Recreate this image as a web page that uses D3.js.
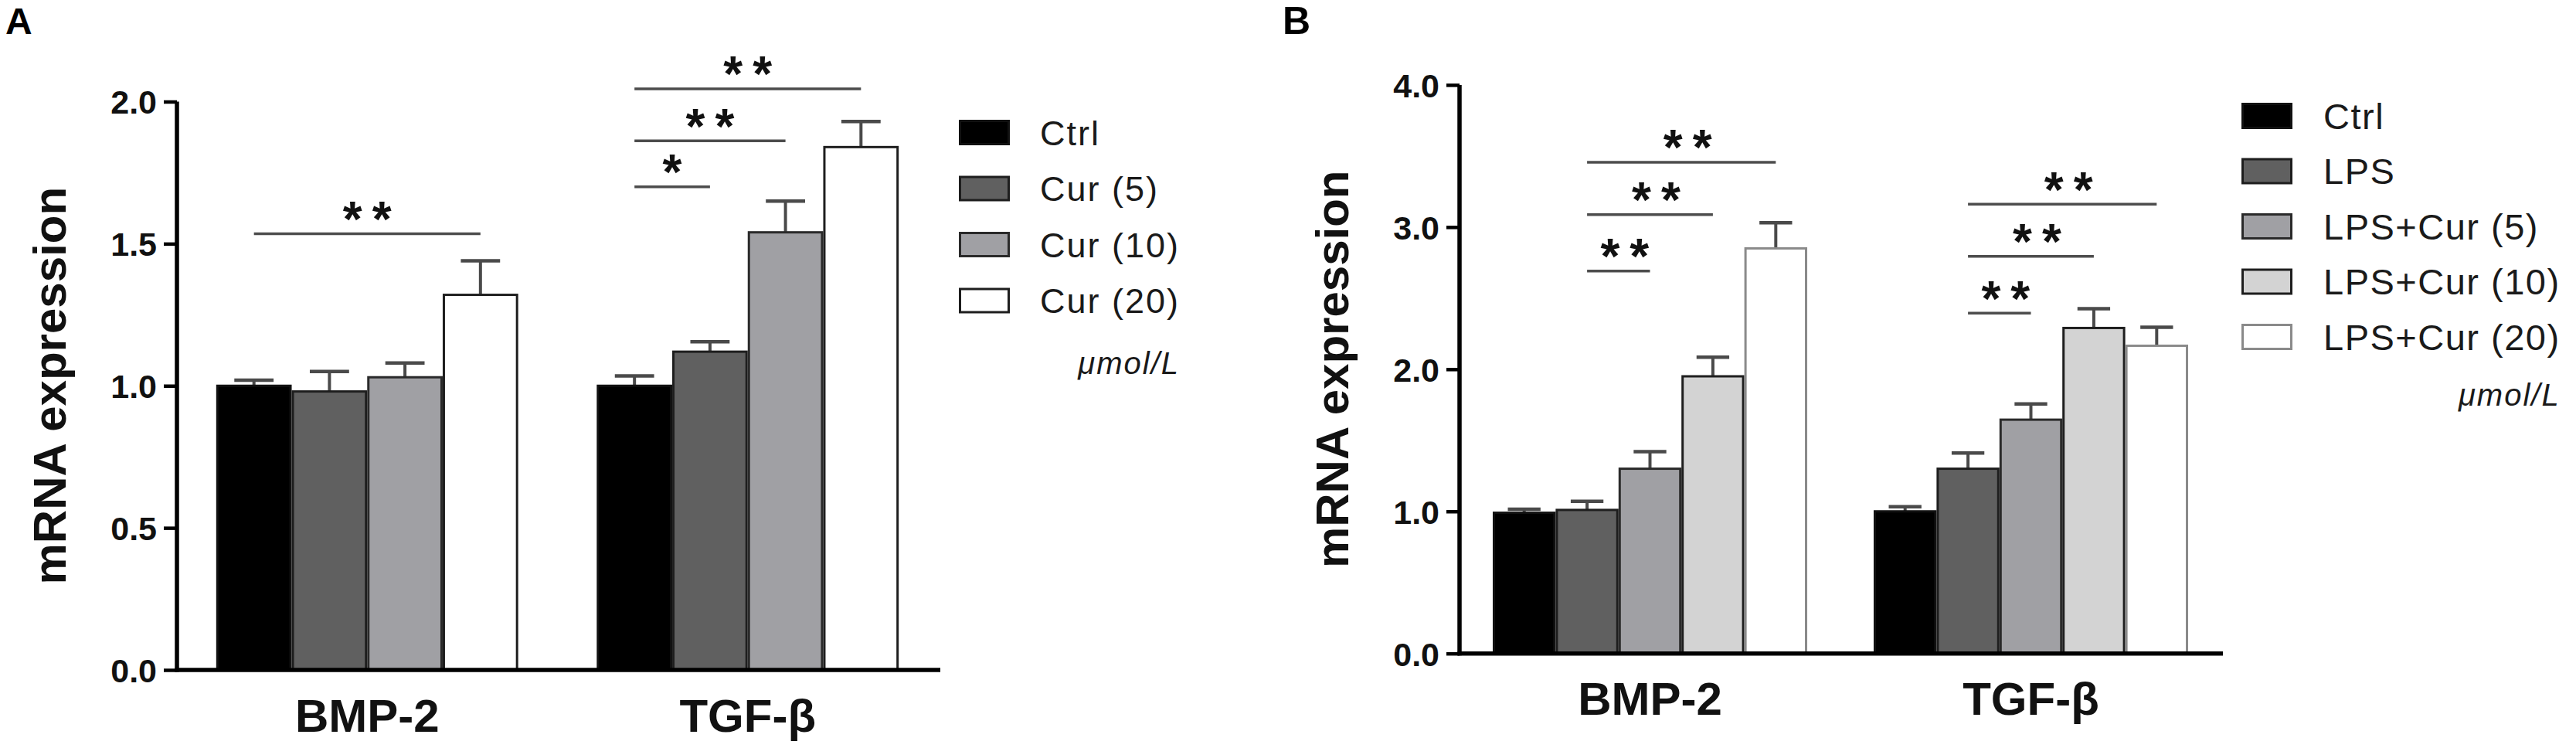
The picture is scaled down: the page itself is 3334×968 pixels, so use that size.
<!DOCTYPE html>
<html>
<head>
<meta charset="utf-8">
<script src="https://cdn.jsdelivr.net/npm/d3@7"></script>
<style>
  html, body { margin: 0; padding: 0; background: #fff; }
  svg { display: block; }
</style>
</head>
<body>
<svg id="chart" width="3334" height="968"></svg>
<script>
// ---------------- DATA ----------------
const categories = ["BMP-2", "TGF-β"];

// Panel A
const seriesA = ["Ctrl", "Cur (5)", "Cur (10)", "Cur (20)"];
const meansA_BMP2 = [1.00, 0.98, 1.03, 1.32];
const errA_BMP2   = [0.02, 0.07, 0.05, 0.12];
const meansA_TGFb = [1.00, 1.12, 1.54, 1.84];
const errA_TGFb   = [0.035, 0.035, 0.11, 0.09];
const ticksA = [0, 0.5, 1.0, 1.5, 2.0];
const sigA = [
  { cat: "BMP-2", from: 0, to: 3, y: 1.535, label: "**" },
  { cat: "TGF-β", from: 0, to: 3, y: 2.045, label: "**" },
  { cat: "TGF-β", from: 0, to: 2, y: 1.862, label: "**" },
  { cat: "TGF-β", from: 0, to: 1, y: 1.700, label: "*" }
];

// Panel B
const seriesB = ["Ctrl", "LPS", "LPS+Cur (5)", "LPS+Cur (10)", "LPS+Cur (20)"];
const meansB_BMP2 = [0.99, 1.01, 1.30, 1.95, 2.85];
const errB_BMP2   = [0.025, 0.06, 0.12, 0.135, 0.18];
const meansB_TGFb = [1.00, 1.30, 1.645, 2.29, 2.165];
const errB_TGFb   = [0.033, 0.11, 0.11, 0.135, 0.13];
const ticksB = [0, 1.0, 2.0, 3.0, 4.0];
const sigB = [
  { cat: "BMP-2", from: 1, to: 4, y: 3.456, label: "**" },
  { cat: "BMP-2", from: 1, to: 3, y: 3.087, label: "**" },
  { cat: "BMP-2", from: 1, to: 2, y: 2.690, label: "**" },
  { cat: "TGF-β", from: 1, to: 4, y: 3.161, label: "**" },
  { cat: "TGF-β", from: 1, to: 3, y: 2.794, label: "**" },
  { cat: "TGF-β", from: 1, to: 2, y: 2.394, label: "**" }
];

const fillsA   = ["#000000", "#606060", "#a0a0a4", "#ffffff"];
const strokesA = ["#111111", "#1e1e1e", "#2a2a2a", "#1e1e1e"];
const fillsB   = ["#000000", "#606060", "#a0a0a4", "#d3d3d3", "#ffffff"];
const strokesB = ["#111111", "#1e1e1e", "#2a2a2a", "#1e1e1e", "#8a8a8a"];
const unitLabel = "μmol/L";

// ---------------- DRAW ----------------
const FONT = "'Liberation Sans', Arial, Helvetica, sans-serif";
const svg = d3.select("#chart");
svg.append("rect").attr("width", 3334).attr("height", 968).attr("fill", "#fff");

function drawPanel(cfg) {
  const g = svg.append("g");
  const x0 = d3.scaleBand().domain(categories).range([cfg.left, cfg.right]);
  const x1 = d3.scaleBand().domain(cfg.series).range([0, x0.bandwidth()])
    .paddingInner(0).paddingOuter(cfg.pad);
  const y = d3.scaleLinear().domain(cfg.domain).range([cfg.bottom, cfg.top]);
  const bw = x1.bandwidth();

  const rows = [];
  categories.forEach((c, ci) => cfg.series.forEach((s, si) => {
    rows.push({ c, s, si, v: cfg.means[ci][si], e: cfg.errs[ci][si] });
  }));

  // error bars (upper only)
  const eg = g.append("g");
  rows.forEach(d => {
    const cx = x0(d.c) + x1(d.s) + bw / 2;
    eg.append("line").attr("x1", cx).attr("x2", cx)
      .attr("y1", y(d.v)).attr("y2", y(d.v + d.e))
      .attr("stroke", "#4a4a4a").attr("stroke-width", 4);
    eg.append("line").attr("x1", cx - bw * 0.26).attr("x2", cx + bw * 0.26)
      .attr("y1", y(d.v + d.e)).attr("y2", y(d.v + d.e))
      .attr("stroke", "#4a4a4a").attr("stroke-width", 4.5);
  });

  // bars
  g.append("g").selectAll("rect").data(rows).join("rect")
    .attr("x", d => x0(d.c) + x1(d.s) + 1.5)
    .attr("width", bw - 3)
    .attr("y", d => y(d.v))
    .attr("height", d => y(0) - y(d.v))
    .attr("fill", d => cfg.fills[d.si])
    .attr("stroke", d => cfg.strokes[d.si])
    .attr("stroke-width", 3);

  // y axis
  const ya = g.append("g").attr("transform", `translate(${cfg.left},0)`)
    .call(d3.axisLeft(y).tickValues(cfg.ticks).tickFormat(d3.format(".1f"))
      .tickSize(17).tickSizeOuter(0).tickPadding(9));
  ya.select(".domain").remove();
  ya.selectAll(".tick line").attr("stroke", "#000").attr("stroke-width", 4.5);
  ya.selectAll(".tick text").attr("font-family", FONT).attr("font-weight", "bold")
    .attr("font-size", 43).attr("fill", "#111").attr("dy", "0.36em");

  // x axis
  const xa = g.append("g").attr("transform", `translate(0,${cfg.bottom})`)
    .call(d3.axisBottom(x0).tickSize(0).tickSizeOuter(0).tickPadding(37));
  xa.select(".domain").remove();
  xa.selectAll(".tick text").attr("font-family", FONT).attr("font-weight", "bold")
    .attr("font-size", 60).attr("fill", "#111");

  // axis lines
  g.append("line").attr("x1", cfg.left).attr("x2", cfg.left)
    .attr("y1", y(cfg.domain[1])).attr("y2", cfg.bottom + 2.5)
    .attr("stroke", "#000").attr("stroke-width", 5.5);
  g.append("line").attr("x1", cfg.left - 2.5).attr("x2", cfg.axisEnd)
    .attr("y1", cfg.bottom).attr("y2", cfg.bottom)
    .attr("stroke", "#000").attr("stroke-width", 5.5);

  // y title
  g.append("text")
    .attr("transform", `translate(${cfg.left - 144},${(y(0) + y(cfg.domain[1])) / 2}) rotate(-90)`)
    .attr("text-anchor", "middle").attr("font-family", FONT).attr("font-weight", "bold")
    .attr("font-size", 60).attr("fill", "#111").text("mRNA expression");

  // significance lines
  const starFs = 64, ls = 13;
  cfg.sig.forEach(s => {
    const xa_ = x0(s.cat) + x1(cfg.series[s.from]) + bw / 2;
    const xb_ = x0(s.cat) + x1(cfg.series[s.to]) + bw / 2;
    const ly = y(s.y);
    g.append("line").attr("x1", xa_).attr("x2", xb_).attr("y1", ly).attr("y2", ly)
      .attr("stroke", "#4d4d4d").attr("stroke-width", 3.5);
    g.append("text")
      .attr("x", (xa_ + xb_) / 2 + ls / 2 + cfg.starShift)
      .attr("y", ly - 33 + starFs * 0.57)
      .attr("text-anchor", "middle").attr("font-family", FONT).attr("font-weight", "bold")
      .attr("font-size", starFs).attr("letter-spacing", ls).attr("fill", "#111")
      .text(s.label);
  });

  // panel letter
  g.append("text").attr("x", cfg.letterX).attr("y", 44)
    .attr("font-family", FONT).attr("font-weight", "bold").attr("font-size", cfg.letterFs)
    .attr("fill", "#000").text(cfg.letter);

  // legend
  const lg = g.append("g");
  let maxRight = 0;
  cfg.series.forEach((s, i) => {
    const top = cfg.legTop + i * cfg.legStep;
    lg.append("rect").attr("x", cfg.legX + 1.5).attr("y", top + 1.5)
      .attr("width", cfg.swW - 3).attr("height", cfg.swH - 3)
      .attr("fill", cfg.fills[i]).attr("stroke", cfg.strokes[i]).attr("stroke-width", 3);
    const t = lg.append("text").attr("x", cfg.legTextX)
      .attr("y", top + cfg.swH / 2 + cfg.legFs * 0.358)
      .attr("font-family", FONT).attr("font-size", cfg.legFs)
      .attr("letter-spacing", cfg.legLs).attr("fill", "#1a1a1a").text(s);
    maxRight = Math.max(maxRight, cfg.legTextX + t.node().getComputedTextLength());
  });
  lg.append("text").attr("x", maxRight).attr("y", cfg.unitY)
    .attr("text-anchor", "end").attr("font-family", FONT).attr("font-style", "italic")
    .attr("font-size", 40).attr("letter-spacing", 2).attr("fill", "#1a1a1a").text(unitLabel);
}

drawPanel({
  letter: "A", letterX: 7, letterFs: 48,
  series: seriesA, means: [meansA_BMP2, meansA_TGFb], errs: [errA_BMP2, errA_TGFb],
  fills: fillsA, strokes: strokesA, ticks: ticksA, domain: [0, 2], sig: sigA,
  left: 229, right: 1214, axisEnd: 1217, bottom: 867, top: 131.5, pad: 0.52, starShift: 0,
  legX: 1241, legTop: 155, legStep: 72.5, swW: 66, swH: 33, legTextX: 1346, legFs: 45, legLs: 2,
  unitY: 484
});

drawPanel({
  letter: "B", letterX: 1660, letterFs: 50,
  series: seriesB, means: [meansB_BMP2, meansB_TGFb], errs: [errB_BMP2, errB_TGFb],
  fills: fillsB, strokes: strokesB, ticks: ticksB, domain: [0, 4], sig: sigB,
  left: 1889, right: 2875, axisEnd: 2877, bottom: 845.7, top: 109.9, pad: 0.528, starShift: 8,
  legX: 2901, legTop: 133, legStep: 71.5, swW: 66, swH: 34, legTextX: 3007, legFs: 47, legLs: 1.5,
  unitY: 525
});
</script>
</body>
</html>
